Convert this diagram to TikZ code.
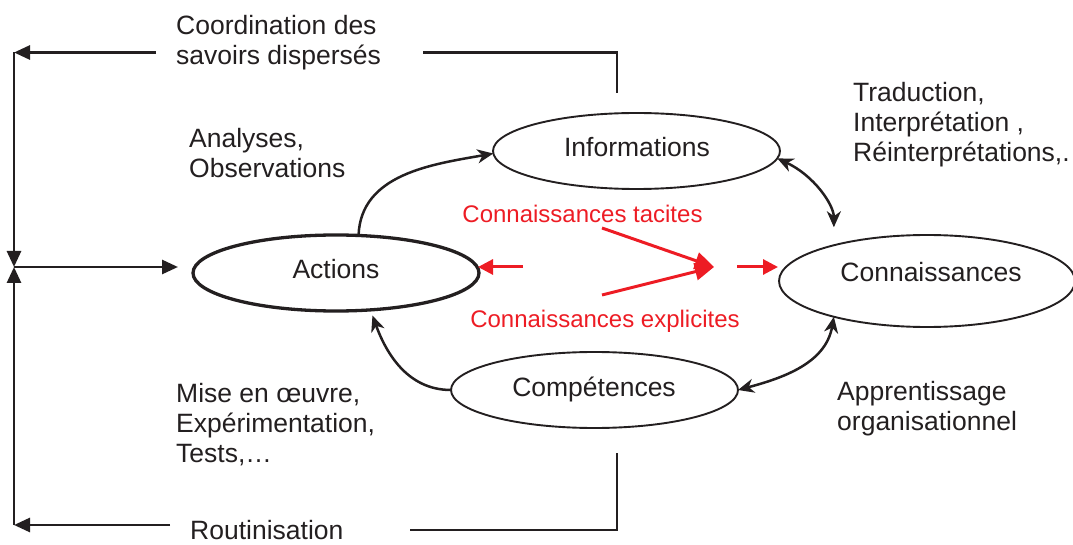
\documentclass[tikz,border=0pt]{standalone}
\usepackage{fontspec}
\setmainfont{Liberation Sans}
\usetikzlibrary{shapes.geometric,arrows.meta}
\definecolor{ink}{RGB}{35,31,32}
\definecolor{redt}{RGB}{237,28,36}
\begin{document}
\begin{tikzpicture}[x=1pt,y=1pt,
  bub/.style={ellipse,draw=ink,line width=1.9pt,inner sep=0pt,outer sep=0pt},
  lab/.style={font=\fontsize{26.5}{30}\selectfont,text=ink,inner sep=0pt},
  blk/.style={lab,align=left,anchor=west},
  rlab/.style={font=\fontsize{24}{28}\selectfont,text=redt,inner sep=0pt},
  loopline/.style={draw=ink,line width=2.8pt},
  looparr/.style={loopline,-{Triangle[length=16pt,width=14pt]}},
  bendarr/.style={draw=ink,line width=2.5pt,-{Stealth[length=16pt,width=14pt,inset=5pt]}},
  bendboth/.style={draw=ink,line width=2.5pt,{Stealth[length=16pt,width=14pt,inset=5pt]}-{Stealth[length=16pt,width=14pt,inset=5pt]}},
  rarr/.style={draw=redt,line width=3pt,-{Triangle[length=15pt,width=15pt]}},
  rbig/.style={draw=redt,line width=3pt,-{Triangle[length=19pt,width=17pt]}},
]
\useasboundingbox (0,0) rectangle (1073,544);

% ellipses
\node[bub,minimum width=287pt,minimum height=76pt] (info) at (636.5,393) {};
\node[bub,line width=3.3pt,minimum width=286pt,minimum height=76pt] (act) at (336,271) {};
\node[bub,minimum width=296pt,minimum height=92pt] (conn) at (927,263) {};
\node[bub,minimum width=287pt,minimum height=76pt] (comp) at (594.5,154) {};

% ellipse labels
\node[lab] (infot) at (637,396.5) {Informations};
\node[lab] (actt) at (336,274.5) {Actions};
\node[lab] (connt) at (931,271.5) {Connaissances};
\node[lab] (compt) at (594,154.2) {Compétences};

% text blocks
\node[blk] (coord) at (176,501) {Coordination des\\savoirs dispersés};
\node[blk] (anal) at (189,390.5) {Analyses,\\Observations};
\node[blk] (trad) at (853,419.4) {Traduction,\\Interprétation ,\\Réinterprétations,.};
\node[blk] (mise) at (176,119.5) {Mise en œuvre,\\Expérimentation,\\Tests,…};
\node[blk] (appr) at (837,135.7) {Apprentissage\\organisationnel};
\node[lab,anchor=west] (rout) at (190,13.5) {Routinisation};

% red labels
\node[rlab] (tac) at (582.5,329.6) {Connaissances tacites};
\node[rlab] (expl) at (605,223.2) {Connaissances explicites};

% coordinates
\coordinate (tacs) at (602,316);
\coordinate (exps) at (602,249);
\coordinate (meet) at (714,277);
\coordinate (ls) at (523,277);
\coordinate (le) at (478,277);
\coordinate (rs) at (737,277);
\coordinate (re) at (778,277);

\coordinate (tl) at (14,491.5);
\coordinate (ttxtL) at (156,491.5);
\coordinate (ttxtR) at (423,491.5);
\coordinate (tr) at (617,491.5);
\coordinate (trd) at (617,451);
\coordinate (mid) at (14,277);
\coordinate (midR) at (178,277);
\coordinate (bl) at (14,19);
\coordinate (btxtL) at (170,19);
\coordinate (btxtR) at (410,14);
\coordinate (br) at (617,14);
\coordinate (bru) at (617,91);

% red arrows
\draw[rbig] (tacs) -- (meet);
\draw[rbig] (exps) -- (meet);
\draw[rarr] (ls) -- (le);
\draw[rarr] (rs) -- (re);

% feedback loop
\draw[loopline] (trd) -- (tr) -- (ttxtR);
\draw[looparr] (ttxtL) -- (tl);
\draw[looparr] (tl) -- (mid);
\draw[looparr] (bl) -- (mid);
\draw[looparr] (mid) -- (midR);
\draw[looparr] (btxtL) -- (bl);
\draw[loopline] (bru) -- (br) -- (btxtR);

% curved arrows
\draw[bendarr] (act.59) to[out=88,in=190] (info.181);
\draw[bendarr,shorten >=6pt] (comp.180) to[out=180,in=-70] (act.-47.4);
\draw[bendboth,shorten >=18pt] (info.-3) to[out=-25,in=90] (conn.159);
\draw[bendboth] (conn.201) to[out=-100,in=15] (comp.0);
\end{tikzpicture}
\end{document}
